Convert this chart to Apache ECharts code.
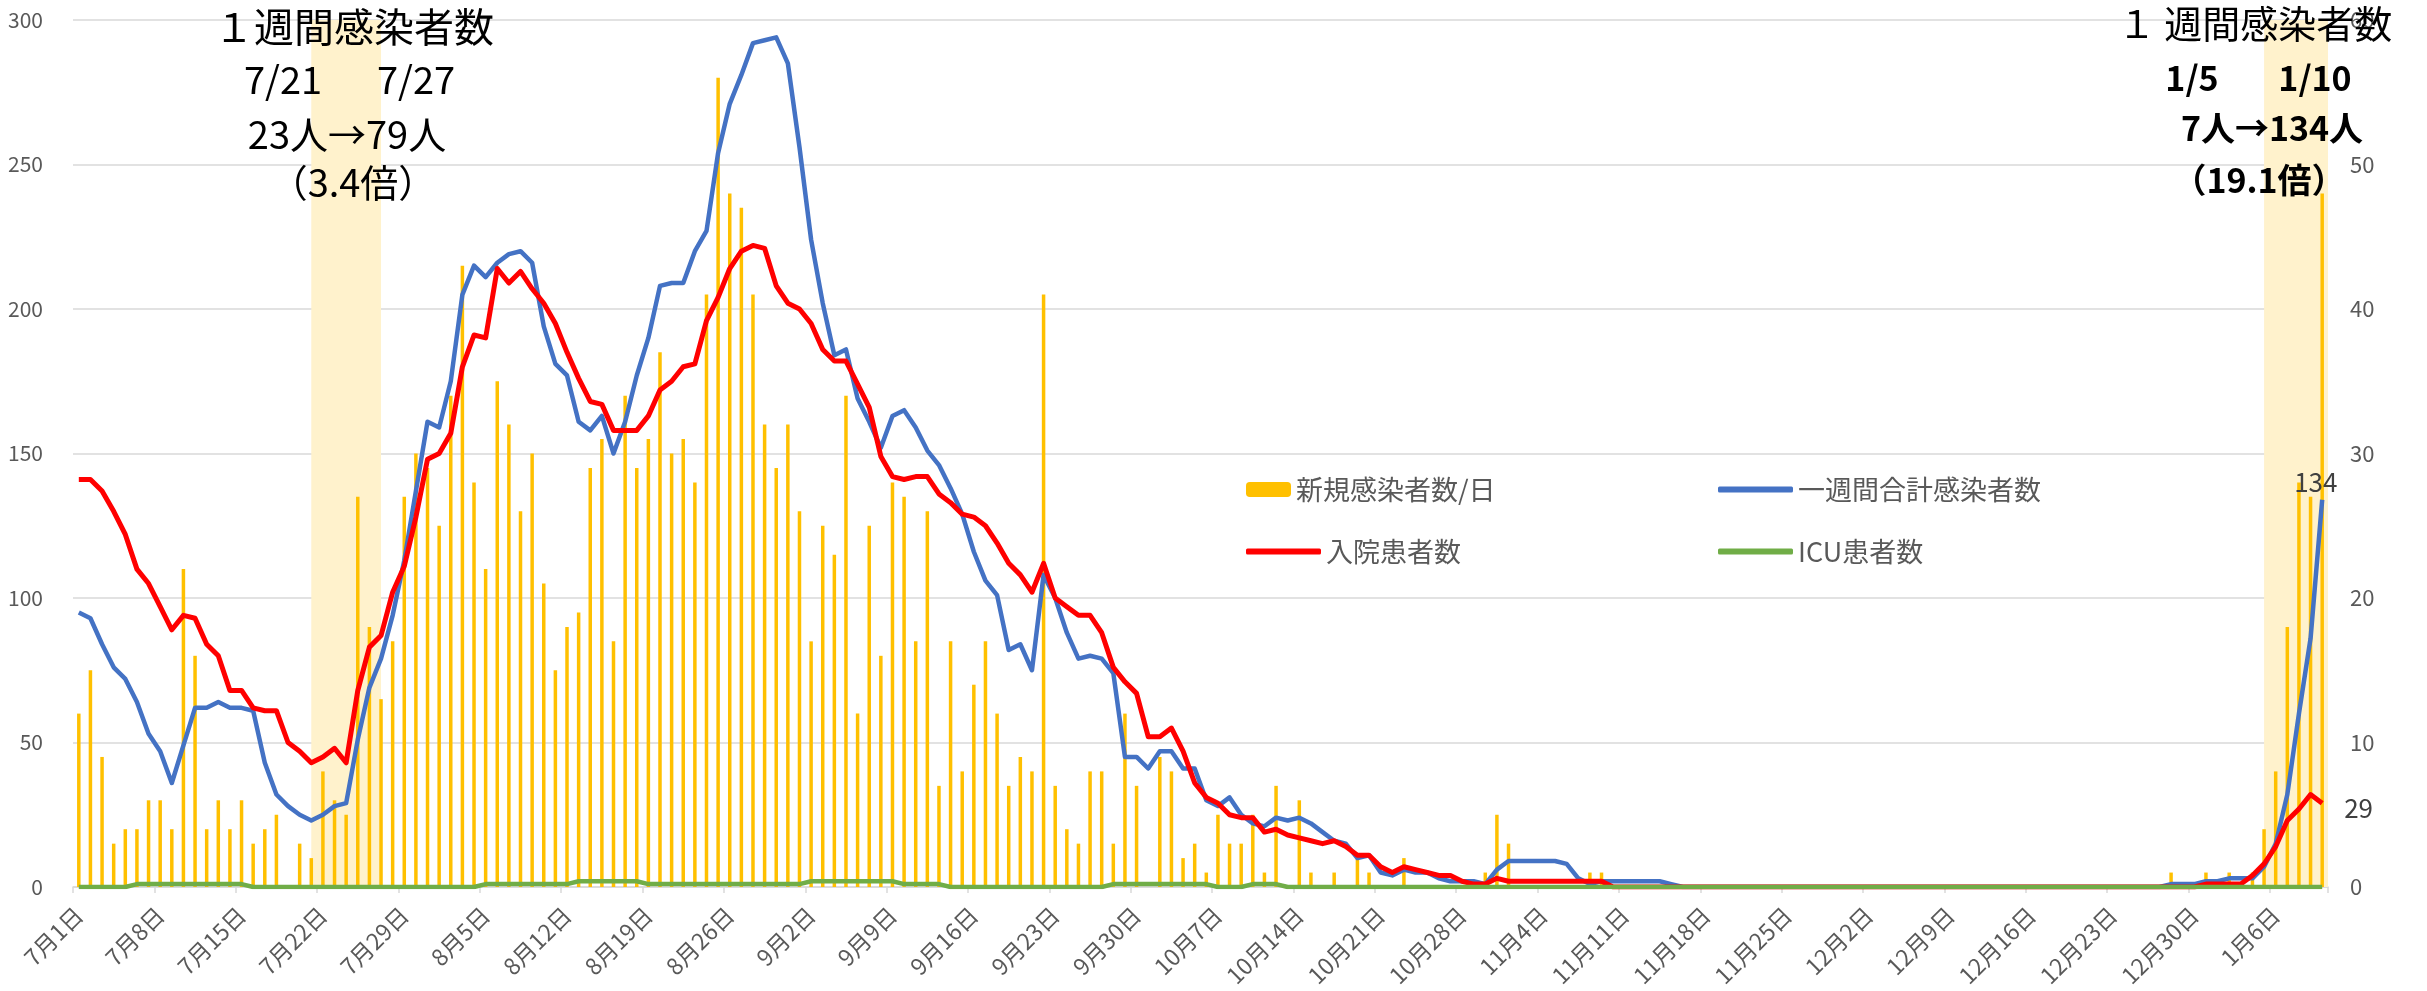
<!DOCTYPE html>
<html>
<head>
<meta charset="utf-8">
<script src="https://cdn.jsdelivr.net/npm/echarts@6/dist/echarts.min.js"></script>
<style>
html,body{margin:0;padding:0;background:#fff;}
#chart{width:2427px;height:991px;}
</style>
</head>
<body>
<div id="chart"></div>
<script>
// ---- categories (date labels) ----
const months = [[7,31],[8,31],[9,30],[10,31],[11,30],[12,31],[1,10]];
const categories = [];
months.forEach(([m, n]) => { for (let d = 1; d <= n; d++) categories.push(m + '月' + d + '日'); });

// ---- series values ----
// 新規感染者数/日 (right axis)
const newCases = [
  12,15,9,3,4,4,6,6,4,22,16,4,6,4,6,3,4,5,0,3,2,8,6,5,27,18,13,17,27,30,29,
  25,34,43,28,22,35,32,26,30,21,15,18,19,29,31,17,34,29,31,37,30,31,28,41,56,48,47,41,32,29,32,
  26,17,25,23,34,12,25,16,28,27,17,26,7,17,8,14,17,12,7,9,8,41,7,4,3,8,8,3,12,7,
  0,9,8,2,3,1,5,3,3,5,1,7,0,6,1,0,1,0,2,1,0,0,2,0,0,0,0,0,0,1,5,
  3,0,0,0,0,0,0,1,1,0,0,0,0,0,0,0,0,0,0,0,0,0,0,0,0,0,0,0,0,0,
  0,0,0,0,0,0,0,0,0,0,0,0,0,0,0,0,0,0,0,0,0,0,0,0,0,0,0,1,0,0,1,
  0,1,0,1,4,8,18,28,27,48
];
// 一週間合計感染者数 (left axis)
const weeklyCases = [
  95,93,84,76,72,64,53,47,36,49,62,62,64,62,62,61,43,32,28,25,23,25,28,29,51,69,79,94,113,137,161,
  159,175,205,215,211,216,219,220,216,194,181,177,161,158,163,150,161,177,190,208,209,209,220,227,254,271,281,292,293,294,285,
  256,224,202,184,186,169,161,152,163,165,159,151,146,138,129,116,106,101,82,84,75,108,100,88,79,80,79,74,45,45,
  41,47,47,41,41,30,28,31,25,22,21,24,23,24,22,19,16,15,10,11,5,4,6,5,5,3,2,2,2,1,6,
  9,9,9,9,9,8,3,1,2,2,2,2,2,2,1,0,0,0,0,0,0,0,0,0,0,0,0,0,0,0,
  0,0,0,0,0,0,0,0,0,0,0,0,0,0,0,0,0,0,0,0,0,0,0,0,0,0,0,1,1,1,2,
  2,3,3,3,7,15,32,60,86,134
];
// 入院患者数 (left axis)
const hospitalized = [
  141,141,137,130,122,110,105,97,89,94,93,84,80,68,68,62,61,61,50,47,43,45,48,43,68,83,87,102,111,128,148,
  150,157,180,191,190,214,209,213,207,202,195,185,176,168,167,158,158,158,163,172,175,180,181,196,204,214,220,222,221,208,202,
  200,195,186,182,182,174,166,149,142,141,142,142,136,133,129,128,125,119,112,108,102,112,100,97,94,94,88,76,71,67,
  52,52,55,47,36,31,29,25,24,24,19,20,18,17,16,15,16,14,11,11,7,5,7,6,5,4,4,2,1,1,3,
  2,2,2,2,2,2,2,2,2,0,0,0,0,0,0,0,0,0,0,0,0,0,0,0,0,0,0,0,0,0,
  0,0,0,0,0,0,0,0,0,0,0,0,0,0,0,0,0,0,0,0,0,0,0,0,0,0,0,0,0,0,1,
  1,1,1,4,8,14,23,27,32,29
];
// ICU患者数 (left axis)
const icu = [
  0,0,0,0,0,1,1,1,1,1,1,1,1,1,1,0,0,0,0,0,0,0,0,0,0,0,0,0,0,0,0,
  0,0,0,0,1,1,1,1,1,1,1,1,2,2,2,2,2,2,1,1,1,1,1,1,1,1,1,1,1,1,1,
  1,2,2,2,2,2,2,2,2,1,1,1,1,0,0,0,0,0,0,0,0,0,0,0,0,0,0,1,1,1,
  1,1,1,1,1,1,0,0,0,1,1,1,0,0,0,0,0,0,0,0,0,0,0,0,0,0,0,0,0,0,0,
  0,0,0,0,0,0,0,0,0,0,0,0,0,0,0,0,0,0,0,0,0,0,0,0,0,0,0,0,0,0,
  0,0,0,0,0,0,0,0,0,0,0,0,0,0,0,0,0,0,0,0,0,0,0,0,0,0,0,0,0,0,0,
  0,0,0,0,0,0,0,0,0,0
];
const leftTicks = {min: 0, max: 300, interval: 50};
const rightTicks = {min: 0, max: 60, interval: 10};
const seriesNames = ['新規感染者数/日', '一週間合計感染者数', '入院患者数', 'ICU患者数'];
// shaded periods (start category, end category; null = to the right edge)
const shadeRanges = [['7月21日', '7月27日'], ['1月5日', null]];

const FONT = '"Noto Sans CJK JP", "Noto Sans", sans-serif';
const GRAY = '#595959';

const chart = echarts.init(document.getElementById('chart'), null, {renderer: 'canvas'});

function legendItem(name, left, top, isBar) {
  return {
    data: [name], left: left, top: top, padding: 0,
    icon: 'roundRect',
    itemWidth: isBar ? 45 : 75, itemHeight: isBar ? 15 : 6,
    textStyle: {fontSize: 27, color: GRAY, fontFamily: FONT},
    selectedMode: false
  };
}

function txt(text, x, y, size, weight) {
  return {
    type: 'text', x: x, y: y, z: 100,
    style: {text: text, fontSize: size, fontFamily: FONT, fontWeight: weight || 'normal',
            fill: '#000', align: 'center', verticalAlign: 'middle'}
  };
}

const shadeData = shadeRanges.map(([a, b]) => {
  const start = {xAxis: categories.indexOf(a)};
  const end = b ? {xAxis: categories.indexOf(b)} : {};
  return [start, end];
});

const option = {
  animation: false,
  backgroundColor: '#fff',
  grid: {left: 73, right: 99, top: 20, bottom: 104, containLabel: false},
  legend: [
    legendItem(seriesNames[0], 1246, 476, true),
    legendItem(seriesNames[1], 1718, 476, false),
    legendItem(seriesNames[2], 1246, 538, false),
    legendItem(seriesNames[3], 1718, 538, false)
  ],
  xAxis: [
    {
      type: 'category', data: categories, boundaryGap: true,
      axisLine: {lineStyle: {color: '#d9d9d9', width: 1.5}},
      axisTick: {show: true, interval: 6, length: 6, lineStyle: {color: '#d9d9d9', width: 1.5}},
      axisLabel: {interval: 6, rotate: 45, fontSize: 23, color: GRAY, fontFamily: FONT, margin: 24}
    },
    {
      type: 'value', show: false, min: -0.5, max: categories.length - 0.5
    }
  ],
  yAxis: [
    {
      type: 'value', min: leftTicks.min, max: leftTicks.max, interval: leftTicks.interval,
      axisLine: {show: false}, axisTick: {show: false},
      axisLabel: {fontSize: 21, color: GRAY, fontFamily: FONT, margin: 30},
      splitLine: {lineStyle: {color: '#d9d9d9', width: 1.5}}
    },
    {
      type: 'value', min: rightTicks.min, max: rightTicks.max, interval: rightTicks.interval,
      axisLine: {show: false}, axisTick: {show: false},
      axisLabel: {fontSize: 22, color: GRAY, fontFamily: FONT, margin: 22},
      splitLine: {show: false}
    }
  ],
  series: [
    {
      name: 'shade', type: 'line', xAxisIndex: 1, yAxisIndex: 0, data: [],
      silent: true, symbol: 'none',
      markArea: {silent: true, itemStyle: {color: '#FFF2CC'}, data: shadeData}
    },
    {
      name: seriesNames[0], type: 'bar', yAxisIndex: 1, data: newCases,
      barWidth: 3.5, itemStyle: {color: '#FFC000'}
    },
    {
      name: seriesNames[1], type: 'line', yAxisIndex: 0, data: weeklyCases,
      symbol: 'none', lineStyle: {color: '#4472C4', width: 4.5, join: 'round'},
      itemStyle: {color: '#4472C4'},
      endLabel: {show: true, formatter: '{c}', fontSize: 26, color: '#404040', fontFamily: FONT, offset: [-36, -18]}
    },
    {
      name: seriesNames[2], type: 'line', yAxisIndex: 0, data: hospitalized,
      symbol: 'none', lineStyle: {color: '#FF0000', width: 5, join: 'round'},
      itemStyle: {color: '#FF0000'},
      endLabel: {show: true, formatter: '{c}', fontSize: 26, color: '#404040', fontFamily: FONT, offset: [14, 5]}
    },
    {
      name: seriesNames[3], type: 'line', yAxisIndex: 0, data: icu,
      symbol: 'none', lineStyle: {color: '#70AD47', width: 4.5, join: 'round'},
      itemStyle: {color: '#70AD47'}
    }
  ],
  graphic: [
    txt('１週間感染者数', 354, 27, 40),
    txt('7/21', 283, 80, 38),
    txt('7/27', 416, 80, 38),
    txt('23人→79人', 347, 135, 38),
    txt('（3.4倍）', 353, 183, 38),
    txt('１ 週間感染者数', 2255, 24, 38),
    txt('1/5', 2192, 78, 34, 'bold'),
    txt('1/10', 2315, 78, 34, 'bold'),
    txt('7人→134人', 2272, 128, 34, 'bold'),
    txt('（19.1倍）', 2259, 180, 34, 'bold')
  ]
};
chart.setOption(option);
</script>
</body>
</html>
